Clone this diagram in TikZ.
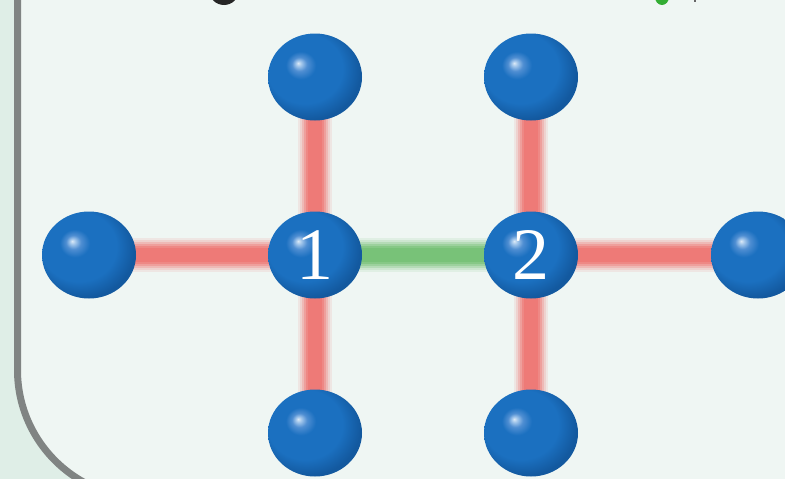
\documentclass[tikz,border=0pt]{standalone}
\usepackage{fontspec}
\setmainfont{Liberation Serif}
\definecolor{outerbg}{HTML}{DFEEE7}
\definecolor{panelbg}{HTML}{EFF6F3}
\definecolor{panelborder}{HTML}{808483}
\definecolor{bondred}{HTML}{EE7A77}
\definecolor{bondgreen}{HTML}{78C278}
\definecolor{ballblue}{HTML}{1B70C0}
\definecolor{balldark}{HTML}{13599F}
\definecolor{ballhl}{HTML}{DCEAF7}
\definecolor{balllight}{HTML}{A2C6EB}
\definecolor{ballmid}{HTML}{4F8ED2}
\pgfdeclareradialshading{atomsphere}{\pgfpoint{-9bp}{8bp}}{%
  color(0bp)=(ballhl); color(1.5bp)=(balllight); color(4bp)=(ballmid);
  color(8bp)=(ballblue); color(20bp)=(ballblue); color(28bp)=(balldark);
  color(50bp)=(balldark)}
\tikzset{
  atom/.style={ellipse, minimum width=94pt, minimum height=87pt, inner sep=0pt,
    shading=atomsphere, text=white, font=\fontsize{74}{74}\selectfont},
  bondglow/.style={line cap=butt},
}
\newcommand{\mybond}[3]{%
  \draw[bondglow, #1, line width=34pt, opacity=0.12] (#2) -- (#3);
  \draw[bondglow, #1, line width=30pt, opacity=0.18] (#2) -- (#3);
  \draw[bondglow, #1, line width=26pt, opacity=0.28] (#2) -- (#3);
  \draw[bondglow, #1, line width=22pt, opacity=0.4] (#2) -- (#3);
  \draw[bondglow, #1, line width=18pt, opacity=0.6] (#2) -- (#3);
  \draw[bondglow, #1, line width=14pt] (#2) -- (#3);
}
\usetikzlibrary{shapes.geometric}
\begin{document}
\begin{tikzpicture}[x=1pt, y=-1pt]
\useasboundingbox (0,0) rectangle (785,479);
\clip (0,0) rectangle (785,479);
\fill[outerbg] (0,0) rectangle (785,479);
\draw[panelborder, fill=panelbg, line width=7pt, rounded corners=128pt]
  (17.5,-200) rectangle (1000,498);
% cut-off fragments at the top
\fill[black!85] (224,-10) ellipse (15pt and 15pt);
\fill[green!60!black!80] (662,-3) ellipse (7pt and 8pt);
\fill[black!60] (694,-2) rectangle (696,2);
% atom positions
\coordinate (pA) at (89,255);
\coordinate (pT1) at (315,77);
\coordinate (pC1) at (315,255);
\coordinate (pB1) at (315,433);
\coordinate (pT2) at (531,77);
\coordinate (pC2) at (531,255);
\coordinate (pB2) at (531,433);
\coordinate (pD) at (758,255);
% bonds
\mybond{bondred}{pA}{pC1}
\mybond{bondred}{pT1}{pB1}
\mybond{bondred}{pT2}{pB2}
\mybond{bondred}{pC2}{pD}
\mybond{bondgreen}{pC1}{pC2}
% atoms
\node[atom] (a) at (pA) {};
\node[atom] (t1) at (pT1) {};
\node[atom] (b1) at (pB1) {};
\node[atom] (t2) at (pT2) {};
\node[atom] (b2) at (pB2) {};
\node[atom] (d) at (pD) {};
\node[atom] (c1) at (pC1) {\raisebox{-2pt}{1}};
\node[atom] (c2) at (pC2) {\raisebox{-2pt}{2}};
\end{tikzpicture}
\end{document}
